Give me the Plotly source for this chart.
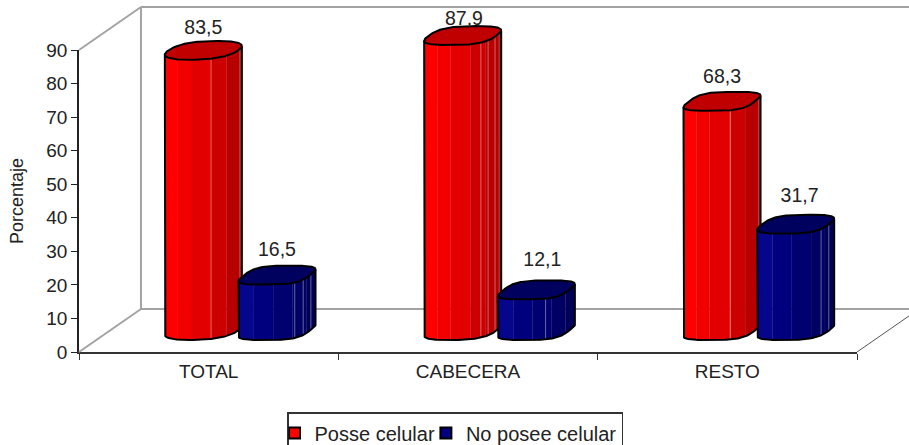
import numpy as np
import plotly.graph_objects as go

# Chart data
categories = ["TOTAL", "CABECERA", "RESTO"]
posee = [83.5, 87.9, 68.3]
no_posee = [16.5, 12.1, 31.7]
y_ticks = [0, 10, 20, 30, 40, 50, 60, 70, 80, 90]

# Canvas and the pixel box of the front axes
WIDTH, HEIGHT = 909, 445
AX_L, AX_R, AX_T, AX_B = 79, 857, 50, 352
X_MAX = len(categories)
Y_MAX = y_ticks[-1]
PX_X = (AX_R - AX_L) / X_MAX
PX_Y = (AX_B - AX_T) / Y_MAX

# Projection of the depth axis, in axis units per unit of depth
DEPTH_X = 0.239
DEPTH_Y = 12.8

# Column geometry (axis units)
OFFSETS = [0.36, 0.644]
COL_W = 0.297
HALF_W = 0.139
HALF_D = 0.22
SQUARE = [[0.85, 0.7, 0.6], [0.6, 0.6, 0.65]]

RED_BANDS = [(0.0, 0.17, "#ff0000"), (0.17, 0.34, "#f20000"), (0.34, 0.6, "#e20000"),
             (0.6, 0.8, "#cc0000"), (0.8, 0.97, "#b90000"), (0.97, 1.0, "#b03030")]
BLUE_BANDS = [(0.0, 0.2, "#06068c"), (0.2, 0.45, "#00007e"), (0.45, 0.7, "#000070"),
              (0.7, 0.88, "#000064"), (0.88, 1.0, "#000058")]
SHINE = [[[0.6], [0.736, 0.83, 0.92], [0.61]],
         [[0.73, 0.84, 0.94], [0.62], [0.83, 0.93]]]
LABEL_LIFT = [[6.3, 4.6, 6.9], [7.2, 8.6, 8.0]]
LABEL_NUDGE = [[0, 0.005, 0], [0, 0.023, 0.015]]


def project(x, value, depth):
    return x + depth * DEPTH_X, value + depth * DEPTH_Y


def section(center, square):
    """Outline of a column's cross-section, as x position and height offset."""
    t = np.linspace(0, 2 * np.pi, 145)[:-1]
    cx = np.sign(np.cos(t)) * np.abs(np.cos(t)) ** square
    cz = np.sign(np.sin(t)) * np.abs(np.sin(t)) ** square
    px, py = project(HALF_W * cx, 0.0, HALF_D * cz)
    px = px / (px.max() - px.min()) * COL_W
    px, _ = project(center + px, 0.0, 0.5)
    py = py + 0.5 * DEPTH_Y
    return px, py


def front_arc(px, py):
    """Visible lower part of the outline, from its left end to its right end."""
    lo, hi = int(np.argmin(px)), int(np.argmax(px))
    idx = []
    i = lo
    while True:
        idx.append(i)
        if i == hi:
            break
        i = (i + 1) % len(px)
    return px[idx], py[idx]


fig = go.Figure()


def poly(x, y, fill=None, line="rgba(0,0,0,0)", width=0):
    # Marks live on the full-canvas overlay axes, so the depth projection is never clipped
    fig.add_trace(go.Scatter(
        x=x, y=y, xaxis="x2", yaxis="y2", mode="lines", showlegend=False, hoverinfo="skip",
        line=dict(color=line, width=width), fill="toself" if fill else None,
        fillcolor=fill))


# Chart box: walls and floor behind the columns
wall = "#a3a3a3"
for a, b in [((0, Y_MAX, 0), (0, Y_MAX, 1)), ((0, Y_MAX, 1), (3.2, Y_MAX, 1)),
             ((0, 0, 1), (0, Y_MAX, 1)), ((0, 0, 0), (0, 0, 1)), ((0, 0, 1), (3.2, 0, 1))]:
    p, q = project(*a), project(*b)
    poly([p[0], q[0]], [p[1], q[1]], line=wall, width=2)
p, q = project(X_MAX, 0, 0), project(X_MAX, 0, 1)
poly([p[0], q[0]], [p[1], q[1]], line="#555555", width=1)


def column(center, value, square, bands, top, shine):
    px, py = section(center, square)
    ax, ay = front_arc(px, py)
    span = ax[-1] - ax[0]
    for f0, f1, color in bands:
        xs = np.linspace(ax[0] + f0 * span, ax[0] + f1 * span, 12)
        base = np.interp(xs, ax, ay)
        poly(np.r_[xs, xs[::-1]], np.r_[base + value, base[::-1]], fill=color, line=color, width=0.5)
    for f in shine:
        xs = ax[0] + f * span
        base = np.interp(xs, ax, ay)
        poly([xs, xs], [base, base + value], line="rgba(255,255,255,0.4)", width=1)
    # silhouette of the body, then the cap
    poly(np.r_[ax[0], ax, ax[-1]], np.r_[ay[0] + value, ay, ay[-1] + value], line="#000000", width=2)
    poly(np.r_[px, px[0]], np.r_[py + value, py[0] + value], fill=top, line="#000000", width=2)


series = [(posee, RED_BANDS, "#c00000"), (no_posee, BLUE_BANDS, "#00005f")]
for s, (values, bands, top) in enumerate(series):
    for i, v in enumerate(values):
        column(i + OFFSETS[s], v, SQUARE[s][i], bands, top, SHINE[s][i])

# Value labels above each column
for s, (values, _, _) in enumerate(series):
    lx, ly = [], []
    for i, v in enumerate(values):
        x, y = project(i + OFFSETS[s], v, 0.5)
        lx.append(x + LABEL_NUDGE[s][i])
        ly.append(y + LABEL_LIFT[s][i])
    fig.add_trace(go.Scatter(
        x=lx, y=ly, xaxis="x2", yaxis="y2", mode="text",
        text=[f"{v:.1f}".replace(".", ",") for v in values],
        textposition="middle center", textfont=dict(size=19.5, color="#222222"),
        showlegend=False, hoverinfo="skip", cliponaxis=False))

# Legend entries
for name, color in [("Posse celular", "#ff0000"), ("No posee celular", "#000080")]:
    fig.add_trace(go.Scatter(
        x=[None], y=[None], mode="markers", name=name,
        marker=dict(symbol="square", size=11, color=color, line=dict(color="#000000", width=2))))

fig.update_layout(
    width=WIDTH, height=HEIGHT,
    margin=dict(l=0, r=0, t=0, b=0, autoexpand=False),
    paper_bgcolor="white", plot_bgcolor="rgba(0,0,0,0)",
    font=dict(family="Liberation Sans, Arial, sans-serif", size=19, color="#222222"),
    showlegend=True,
    legend=dict(orientation="h", x=287 / WIDTH, y=33 / HEIGHT, xanchor="left", yanchor="top",
                bgcolor="white", bordercolor="#333333", borderwidth=1.5,
                font=dict(size=20), indentation=-14),
    xaxis=dict(domain=[AX_L / WIDTH, AX_R / WIDTH], range=[0, X_MAX], fixedrange=True,
               tickmode="array", tickvals=[0.5, 1.5, 2.5], ticktext=categories,
               ticks="outside", ticklen=1, tickcolor="rgba(0,0,0,0)", showgrid=False, zeroline=False,
               showline=True, linecolor="#333333", linewidth=1.5,
               minor=dict(tickmode="array", tickvals=[0, 1, 2, 3], ticks="outside",
                          ticklen=6, tickcolor="#333333", tickwidth=1, showgrid=False)),
    yaxis=dict(domain=[1 - AX_B / HEIGHT, 1 - AX_T / HEIGHT], range=[0, Y_MAX], fixedrange=True,
               tickmode="array", tickvals=y_ticks, ticks="outside", ticklen=6,
               tickcolor="#222222", showgrid=False, zeroline=False,
               showline=True, linecolor="#222222", linewidth=1.5,
               title=dict(text="Porcentaje", standoff=18, font=dict(size=18))),
    # Overlay axes share the units of the visible ones but span the whole canvas
    xaxis2=dict(domain=[0, 1], range=[-AX_L / PX_X, (WIDTH - AX_L) / PX_X], visible=False,
                anchor="y2", fixedrange=True),
    yaxis2=dict(domain=[0, 1], range=[(AX_B - HEIGHT) / PX_Y, AX_B / PX_Y], visible=False,
                anchor="x2", fixedrange=True),
)

fig.write_html("out.html")
